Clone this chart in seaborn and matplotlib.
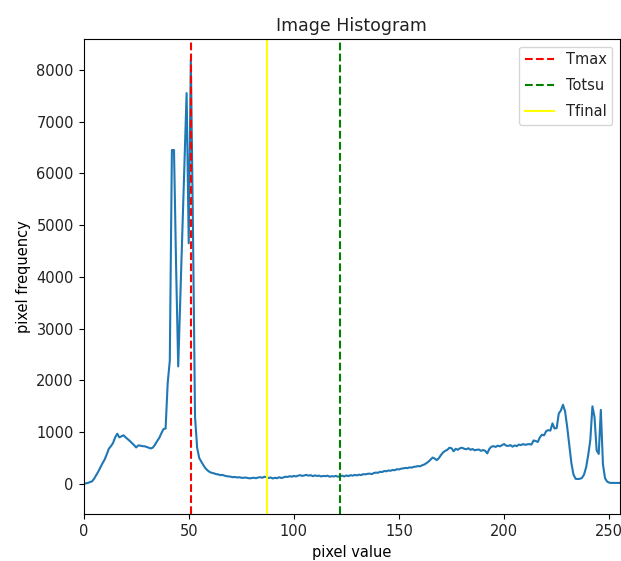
import seaborn as sns
import matplotlib.pyplot as plt
import numpy as np
import pandas as pd
from matplotlib.ticker import MultipleLocator

# histogram counts for pixel values 0..255
hist_0_39 = [5, 10, 20, 35, 50, 100, 170, 240, 320, 400,
             470, 570, 680, 730, 790, 900, 970, 900, 920, 940,
             900, 865, 830, 790, 750, 705, 745, 740, 730, 728,
             715, 700, 685, 705, 760, 830, 890, 980, 1060, 1070]
hist_40_59 = [1950, 2380, 6450, 6450, 4200, 2270, 3600, 4900, 6200, 7550,
              4650, 8190, 5000, 1300, 700, 500, 430, 360, 300, 260]
hist_60_119 = [230, 215, 205, 190, 185, 170, 175, 160, 150, 145,
               140, 130, 135, 125, 130, 120, 118, 125, 115, 108,
               115, 120, 110, 125, 130, 120, 140, 130, 115, 125,
               105, 120, 110, 130, 115, 125, 140, 135, 150, 140,
               155, 145, 160, 170, 155, 165, 175, 160, 170, 150,
               165, 155, 160, 145, 155, 150, 160, 140, 150, 145]
hist_120_179 = [155, 140, 150, 160, 145, 165, 150, 170, 160, 175,
                165, 180, 170, 190, 185, 195, 200, 190, 210, 220,
                215, 235, 230, 250, 245, 260, 255, 270, 265, 285,
                280, 295, 300, 310, 305, 320, 315, 330, 335, 345,
                340, 360, 375, 400, 430, 470, 510, 490, 460, 500,
                560, 610, 640, 660, 700, 690, 630, 680, 660, 690]
hist_180_255 = [700, 680, 670, 690, 660, 675, 650, 660, 665, 640,
                655, 640, 590, 680, 720, 730, 715, 740, 725, 750,
                770, 740, 735, 750, 720, 745, 730, 760, 750, 770,
                755, 765, 770, 760, 840, 830, 810, 900, 950, 940,
                1020, 1040, 1030, 1170, 1070, 1080, 1360, 1420, 1530, 1400,
                1100, 750, 400, 180, 100, 95, 100, 115, 180, 320,
                560, 850, 1500, 1290, 650, 580, 1430, 380, 110, 45,
                25, 20, 20, 20, 20, 20]

hist = hist_0_39 + hist_40_59 + hist_60_119 + hist_120_179 + hist_180_255
pixel_values = np.arange(len(hist))

t_max = 51
t_otsu = 122
t_final = 87

df = pd.DataFrame({'pixel value': pixel_values, 'pixel frequency': hist})

plt.rcParams['font.size'] = 10.5
plt.rcParams['text.color'] = '#222222'
plt.rcParams['xtick.labelcolor'] = '#222222'
plt.rcParams['ytick.labelcolor'] = '#222222'

fig = plt.figure(figsize=(6.21, 5.61), dpi=100)
ax = fig.add_axes([0.1346, 0.0829, 0.998 - 0.1346, 0.930 - 0.0829])

sns.lineplot(data=df, x='pixel value', y='pixel frequency', ax=ax, color='#1f77b4', linewidth=1.5)
ax.axvline(t_max, color='red', linestyle='--', label='Tmax')
ax.axvline(t_otsu, color='green', linestyle='--', label='Totsu')
ax.axvline(t_final, color='yellow', linestyle='-', label='Tfinal')

ax.set_xlim(0, 255)
ax.set_ylim(-590, 8590)
ax.xaxis.set_major_locator(MultipleLocator(50))
ax.yaxis.set_major_locator(MultipleLocator(1000))
ax.set_title('Image Histogram', fontsize=12.5)
ax.set_xlabel('pixel value')
ax.set_ylabel('pixel frequency')
ax.legend(loc='upper right', labelspacing=0.75)

fig.savefig('out.png', dpi=100)
